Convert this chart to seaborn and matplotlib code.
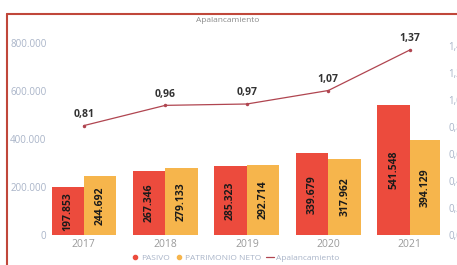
import seaborn as sns
import matplotlib.pyplot as plt
import pandas as pd
from matplotlib.lines import Line2D

years = ['2017', '2018', '2019', '2020', '2021']
pasivo = [197853, 267346, 285323, 339679, 541548]
patrimonio = [244692, 279133, 292714, 317962, 394129]
apalancamiento = [0.81, 0.96, 0.97, 1.07, 1.37]
left_ticks = [0, 200000, 400000, 600000, 800000]
left_labels = ['0', '200.000', '400.000', '600.000', '800.000']
right_ticks = [0.0, 0.2, 0.4, 0.6, 0.8, 1.0, 1.2, 1.4]

data = pd.DataFrame({
    'Año': years * 2,
    'Valor': pasivo + patrimonio,
    'Serie': ['PASIVO'] * len(years) + ['PATRIMONIO NETO'] * len(years),
})

sns.set_theme(style="white")
plt.rcParams['font.family'] = ['Open Sans', 'DejaVu Sans']

W, H = 457, 265
fig = plt.figure(figsize=(W / 100, H / 100), dpi=100)
ax = fig.add_axes([52 / W, 1 - 235 / H, (440 - 52) / W, 200 / H])

palette = {'PASIVO': '#EC4B3D', 'PATRIMONIO NETO': '#F6B54C'}
sns.barplot(data=data, x='Año', y='Valor', hue='Serie', palette=palette,
            width=0.8, saturation=1, legend=False, linewidth=0, ax=ax)

for cont in ax.containers:
    ax.bar_label(cont, labels=[f'{v:,.0f}'.replace(',', '.') for v in cont.datavalues],
                 label_type='center', rotation=90, fontsize=7.5,
                 fontweight='bold', color='#1A1A1A')

ax.set_xlim(-0.39, 4.37)
ax.set_ylim(0, 833000)
ax.set_yticks(left_ticks)
ax.set_yticklabels(left_labels)
ax.set_xlabel('')
ax.set_ylabel('')
ax.tick_params(axis='y', colors='#A9B4C8', labelsize=7, length=0, pad=4)
ax.tick_params(axis='x', colors='#9A9A9A', labelsize=7.5, length=0, pad=3)
for s in ax.spines.values():
    s.set_visible(False)

ax2 = ax.twinx()
sns.lineplot(x=list(range(len(years))), y=apalancamiento, color='#B04550',
             linewidth=0.9, marker='o', markersize=2.5, markeredgewidth=0,
             ax=ax2)
for i, v in enumerate(apalancamiento):
    ax2.annotate(f'{v:.2f}'.replace('.', ','), (i, v), xytext=(0, 4),
                 textcoords='offset points', ha='center', va='bottom',
                 fontsize=7.5, fontweight='bold', color='#333333')
ax2.set_ylim(0, 1.481)
ax2.set_yticks(right_ticks)
ax2.set_yticklabels([f'{t:.1f}'.replace('.', ',') for t in right_ticks])
ax2.tick_params(axis='y', colors='#A9B4C8', labelsize=7, length=0, pad=6)
for s in ax2.spines.values():
    s.set_visible(False)
ax2.grid(False)

fig.text(228 / W, 1 - 20 / H, 'Apalancamiento', ha='center', va='center',
         fontsize=6, color='#8A8A8A')

# legend row
handles = [
    Line2D([], [], marker='o', linestyle='', color='#EC4B3D', markersize=3),
    Line2D([], [], marker='o', linestyle='', color='#F6B54C', markersize=3),
    Line2D([], [], color='#B04550', linewidth=0.9),
]
fig.legend(handles, ['PASIVO', 'PATRIMONIO NETO', 'Apalancamiento'],
           loc='center', bbox_to_anchor=(235 / W, 1 - 258 / H), ncol=3,
           frameon=False, fontsize=6, labelcolor='#A9B4C8',
           handlelength=1.0, handletextpad=0.2, columnspacing=0.6)

# red frame
fig.add_artist(Line2D([7 / W, 1], [1 - 14 / H, 1 - 14 / H], transform=fig.transFigure,
                      color='#C0473A', linewidth=1.5))
fig.add_artist(Line2D([7 / W, 7 / W], [0, 1 - 14 / H], transform=fig.transFigure,
                      color='#C0473A', linewidth=1.5))

fig.savefig('out.png', dpi=100)
